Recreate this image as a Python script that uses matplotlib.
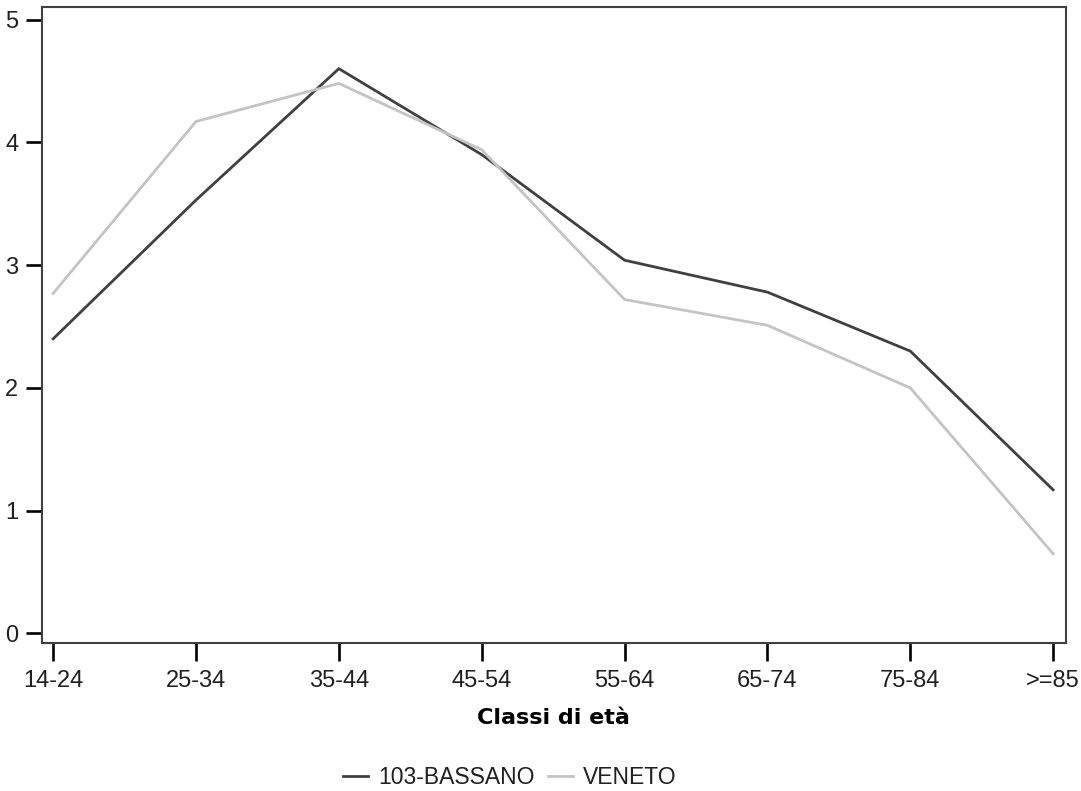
import matplotlib
matplotlib.use("Agg")
import matplotlib.pyplot as plt
from matplotlib.lines import Line2D

categories = ["14-24", "25-34", "35-44", "45-54", "55-64", "65-74", "75-84", ">=85"]
bassano = [2.40, 3.53, 4.60, 3.90, 3.04, 2.78, 2.30, 1.17]
veneto = [2.77, 4.17, 4.48, 3.94, 2.72, 2.51, 2.00, 0.65]
yticks = [0, 1, 2, 3, 4, 5]

dark = "#404040"
light = "#c4c4c4"

fig = plt.figure(figsize=(10.81, 7.91), dpi=100)
ax = fig.add_axes([0.0386, 0.1867, 0.9475, 0.8041])
x = list(range(len(categories)))
ax.plot(x, bassano, color=dark, lw=2.0, label="103-BASSANO", solid_joinstyle="miter")
ax.plot(x, veneto, color=light, lw=2.0, label="VENETO", solid_joinstyle="miter")

ax.set_xlim(-0.08, 7.09)
ax.set_ylim(-0.08, 5.10)
ax.set_xticks(x)
ax.set_xticklabels(categories)
ax.set_yticks(yticks)
ax.set_yticklabels([str(v) for v in yticks])

for s in ax.spines.values():
    s.set_color(dark)
    s.set_linewidth(1.5)

ax.tick_params(axis="x", length=12.6, width=1.9, color="black", pad=6.5)
ax.tick_params(axis="y", length=11.3, width=1.9, color="black", pad=5.5)
for lab in ax.get_xticklabels() + ax.get_yticklabels():
    lab.set_fontfamily("Liberation Sans")
    lab.set_fontsize(17)
    lab.set_color("#202020")

ax.set_xlabel("Classi di età", family="DejaVu Sans", fontweight="bold", fontsize=16, labelpad=11.5, color="black")

handles = [Line2D([], [], color=dark, lw=2), Line2D([], [], color=light, lw=2)]
fig.legend(handles, ["103-BASSANO", "VENETO"], loc="center", bbox_to_anchor=(510 / 1081, 1 - 778 / 791),
           ncol=2, frameon=False, prop=dict(family="Liberation Sans", size=16.5),
           handlelength=1.1, handletextpad=0.44, columnspacing=0.57, labelcolor="#202020",
           borderpad=0, borderaxespad=0)

fig.savefig("out.png", dpi=100)
